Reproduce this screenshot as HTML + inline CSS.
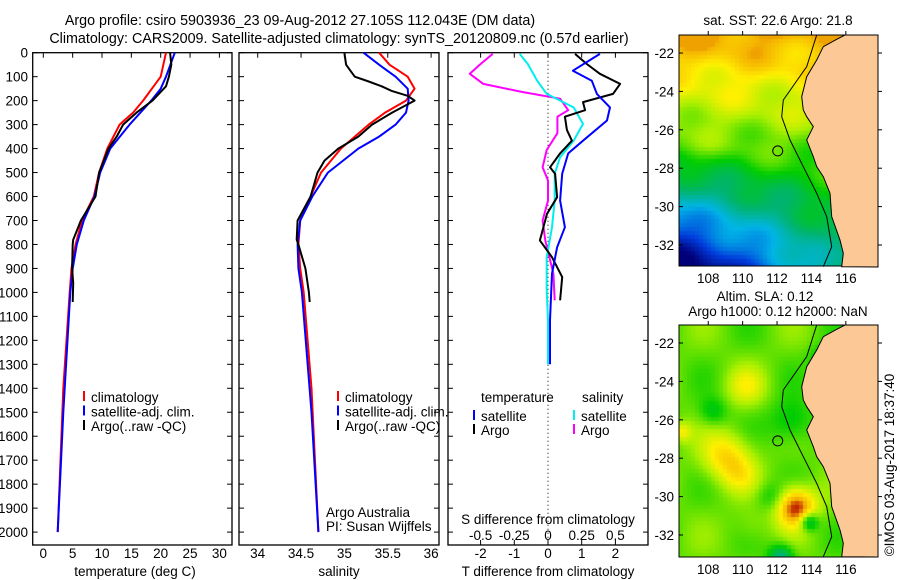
<!DOCTYPE html>
<html><head><meta charset="utf-8">
<style>
html,body{margin:0;padding:0;background:#fff;}
svg text{font-family:"Liberation Sans",sans-serif;font-size:13.5px;fill:#000;}
#wrap{position:relative;width:900px;height:580px;}
canvas{position:absolute;}
</style></head>
<body>
<div id="wrap">
<canvas id="map1" width="199" height="231" style="left:679px;top:35px"></canvas>
<canvas id="map2" width="199" height="232" style="left:679px;top:325px"></canvas>
<svg id="svg" width="900" height="580" style="position:absolute;left:0;top:0"></svg>
</div>
<script>
// ---- data ----
const depthTicks=[0,100,200,300,400,500,600,700,800,900,1000,1100,1200,1300,1400,1500,1600,1700,1800,1900,2000];
const tTicks=[0,5,10,15,20,25,30];
const sTicks=[34,34.5,35,35.5,36];
const dtTicks=[-2,-1,0,1,2];
const dsTicks=[-0.5,-0.25,0,0.25,0.5];
const dsTickLabels=["-0.5","-0.25","0","0.25","0.5"];

const tClimD=[0,100,200,250,300,400,500,600,700,800,900,1000,1400,2000];
const tClimV=[20.9,20.0,17.0,15.3,13.0,10.9,9.5,8.6,6.6,5.5,4.8,4.5,3.4,2.45];
const tSatD=[0,100,150,200,300,400,500,600,700,800,900,1000,1500,2000];
const tSatV=[22.4,20.9,20.0,18.4,14.7,11.4,9.7,8.7,6.9,5.7,5.0,4.6,3.4,2.45];
const tArgoD=[0,50,100,140,200,250,300,350,400,500,600,700,780,800,900,960,1040];
const tArgoV=[21.6,21.8,21.4,20.9,18.6,15.9,13.6,12.5,11.1,9.5,8.9,6.4,5.1,5.0,4.9,5.1,5.0];

const sClimD=[0,50,100,150,200,250,300,350,400,500,600,700,800,900,1000,1400,2000];
const sClimV=[35.40,35.52,35.73,35.81,35.71,35.47,35.28,35.12,34.96,34.73,34.61,34.49,34.47,34.49,34.53,34.62,34.70];
const sSatD=[0,50,100,150,200,250,300,350,400,500,600,700,800,900,1000,1500,2000];
const sSatV=[35.22,35.40,35.59,35.73,35.74,35.71,35.59,35.40,35.16,34.81,34.63,34.49,34.46,34.47,34.51,34.62,34.70];
const sArgoD=[0,50,80,100,120,140,160,180,200,250,300,350,400,450,500,600,700,780,800,900,1000,1040];
const sArgoV=[35.0,35.02,35.08,35.12,35.28,35.43,35.55,35.73,35.81,35.55,35.32,35.16,34.93,34.77,34.69,34.61,34.46,34.45,34.47,34.55,34.59,34.60];

const dtSatD=[5,75,117,172,228,283,367,420,505,617,728,812,922,1117,1300];
const dtSatV=[1.54,0.74,1.3,1.45,1.84,1.75,1.04,0.6,0.42,0.36,0.5,0.27,0.12,0.06,0.06];
const dtArgoD=[5,47,88,130,172,206,240,267,322,367,420,478,505,603,672,783,853,936,1033];
const dtArgoV=[0.8,1.15,1.54,2.14,1.93,1.04,1.1,0.5,0.56,0.71,0.36,0.06,0.21,0.27,-0.03,-0.24,0.12,0.42,0.36];
const dsSatD=[5,47,117,172,228,297,367,436,505,617,728,853,992,1117,1300];
const dsSatV=[-0.21,-0.15,-0.08,-0.01,0.19,0.26,0.19,0.09,0.05,0.05,0.03,-0.01,-0.01,0.0,0.0];
const dsArgoD=[5,47,88,130,164,192,240,267,336,406,478,533,617,700,783,922,1033];
const dsArgoV=[-0.41,-0.5,-0.58,-0.48,-0.19,0.09,0.15,0.07,0.07,-0.01,-0.04,0.0,0.0,-0.04,-0.02,0.04,0.05];

// ---- axes ----
const yD=d=>52.7+d*0.2397;
const xT=t=>43.3+t*5.87;
const xS=s=>257.7+(s-34)*86.7;
const xDT=t=>548+t*33.7;
const xDS=s=>548+s*134.8;
const BOT=545, TOP=52.7;

const NS='http://www.w3.org/2000/svg';
const svg=document.getElementById('svg');
function mk(tag,at,parent){const e=document.createElementNS(NS,tag);for(const k in at)e.setAttribute(k,at[k]);(parent||svg).appendChild(e);return e;}
function txt(x,y,s,anchor,name){const e=mk('text',{x:x,y:y,'text-anchor':anchor||'middle'});e.textContent=s;return e;}
function line(D,V,xf,color,name,w){
  const pts=D.map((d,i)=>xf(V[i]).toFixed(1)+','+yD(d).toFixed(1)).join(' ');
  const p=mk('polyline',{points:pts,fill:'none',stroke:color,'stroke-width':w||2,'stroke-linejoin':'round'});
  
  
}
function box(x0,x1,name){
  const r=mk('rect',{x:x0,y:TOP,width:x1-x0,height:BOT-TOP,fill:'none',stroke:'#000','stroke-width':1.3});
  
  
  depthTicks.forEach(d=>{mk('line',{x1:x0,x2:x0+5,y1:yD(d),y2:yD(d),stroke:'#000'});mk('line',{x1:x1-5,x2:x1,y1:yD(d),y2:yD(d),stroke:'#000'});});
}
const t1=txt(300,25,'Argo profile: csiro 5903936_23 09-Aug-2012 27.105S 112.043E (DM data)','middle','title-line-1');
t1.style.fontSize='14.3px';
const t2=txt(339,43,'Climatology: CARS2009. Satellite-adjusted climatology: synTS_20120809.nc (0.57d earlier)','middle','title-line-2');
t2.style.fontSize='14.3px';

// panel 1
box(32.7,232,'temperature-panel');
depthTicks.forEach(d=>txt(28,yD(d)+5,String(d),'end','depth-tick-label'));
tTicks.forEach(t=>{txt(xT(t),558,String(t),'middle','temperature-tick-label');mk('line',{x1:xT(t),x2:xT(t),y1:TOP,y2:TOP+5,stroke:'#000'});});
txt(135,576,'temperature (deg C)','middle','temperature-axis-title');
line(tClimD,tClimV,xT,'#f00','temperature-climatology-line');
line(tSatD,tSatV,xT,'#00f','temperature-satellite-line');
line(tArgoD,tArgoV,xT,'#000','temperature-argo-line');

// panel 2
box(239,439,'salinity-panel');
sTicks.forEach(s=>{txt(xS(s),558,String(s),'middle','salinity-tick-label');mk('line',{x1:xS(s),x2:xS(s),y1:TOP,y2:TOP+5,stroke:'#000'});});
txt(339,576,'salinity','middle','salinity-axis-title');
line(sClimD,sClimV,xS,'#f00','salinity-climatology-line');
line(sSatD,sSatV,xS,'#00f','salinity-satellite-line');
line(sArgoD,sArgoV,xS,'#000','salinity-argo-line');

function legend(x,name){
  const items=[['#f00','climatology'],['#00f','satellite-adj. clim.'],['#000','Argo(..raw -QC)']];
  items.forEach((it,i)=>{const y=397+i*14.5;mk('rect',{x:x,y:y-6,width:2,height:10,fill:it[0]});txt(x+8,y+5,it[1],'start',name+'-entry');});
}
legend(83,'temperature-legend');
legend(337,'salinity-legend');
txt(326,517,'Argo Australia','start','credit-argo-australia');
txt(326,531,'PI: Susan Wijffels','start','credit-pi');

// panel 3
box(448,648,'difference-panel');
mk('line',{x1:548,x2:548,y1:TOP,y2:BOT,stroke:'#000','stroke-dasharray':'1,3'});
dtTicks.forEach(t=>{txt(xDT(t),558,String(t),'middle','t-diff-tick-label');mk('line',{x1:xDT(t),x2:xDT(t),y1:TOP,y2:TOP+5,stroke:'#000'});mk('line',{x1:xDT(t),x2:xDT(t),y1:BOT-5,y2:BOT,stroke:'#000'});});
dsTicks.forEach((s,i)=>txt(xDS(s),540,dsTickLabels[i],'middle','s-diff-tick-label'));
txt(548,524,'S difference from climatology','middle','s-diff-axis-title');
txt(548,576,'T difference from climatology','middle','t-diff-axis-title');
line(dsArgoD,dsArgoV,xDS,'#f0f','s-diff-argo-line');
line(dsSatD,dsSatV,xDS,'#0ee','s-diff-satellite-line');
line(dtArgoD,dtArgoV,xDT,'#000','t-diff-argo-line');
line(dtSatD,dtSatV,xDT,'#00f','t-diff-satellite-line');
txt(481,402,'temperature','start','diff-legend-temperature-header');
txt(582,402,'salinity','start','diff-legend-salinity-header');
[['#00f','satellite',473],['#000','Argo',473],['#0ee','satellite',573],['#f0f','Argo',573]].forEach((it,i)=>{
  const y=416+(i%2)*14;mk('rect',{x:it[2],y:y-6,width:2,height:10,fill:it[0]});txt(it[2]+8,y+5,it[1],'start','diff-legend-entry');});

// ---- maps ----
const latTicks=[-22,-24,-26,-28,-30,-32];
const lonTicks=[108,110,112,114,116];
const lonX=l=>679+(l-106.3)*17.2;
function latY(l,top){return top+18+( -22-l)*19.2;}
function mapAxes(top,h,name){
  const r=mk('rect',{x:679,y:top,width:199,height:h,fill:'none',stroke:'#000','stroke-width':1});
  
  
  latTicks.forEach(l=>{const y=latY(l,top);txt(674,y+5,String(l),'end',name+'-lat-label');mk('line',{x1:679,x2:683,y1:y,y2:y,stroke:'#000'});mk('line',{x1:874,x2:882,y1:y,y2:y,stroke:'#000'});});
  lonTicks.forEach(l=>{const x=lonX(l);txt(x,top+h+17,String(l),'middle',name+'-lon-label');mk('line',{x1:x,x2:x,y1:top-4,y2:top,stroke:'#000'});});
}
const coast=[[585,105],[560,118],[520,140],[500,180],[470,230],[455,290],[460,330],[470,350],[490,380],[470,420],[490,470],[500,500],[520,530],[540,580],[545,650],[570,720],[580,760],[575,800]];
const contour=[[500,105],[470,200],[400,300],[395,350],[420,420],[460,500],[500,580],[530,650],[545,740],[520,800]];
function drawLand(top,name){
  const pts=coast.map(p=>(650+p[0]/3).toFixed(1)+','+(top-35+p[1]/3).toFixed(1)).join(' ')+' 878,'+(top+232)+' 878,'+top;
  const g=mk('polygon',{points:pts,fill:'#fcc996',stroke:'#000','stroke-width':1});
  
  
  const c=mk('polyline',{points:contour.map(p=>(650+p[0]/3).toFixed(1)+','+(top-35+p[1]/3).toFixed(1)).join(' '),fill:'none',stroke:'#000','stroke-width':1});
  
  
  const o=mk('circle',{cx:lonX(112.04),cy:latY(-27.1,top),r:5,fill:'none',stroke:'#000'});
  
  
}
txt(778,25,'sat. SST: 22.6 Argo: 21.8','middle','sst-map-title');
txt(765,301,'Altim. SLA: 0.12','middle','sla-map-title-1');
txt(778,316,'Argo h1000: 0.12 h2000: NaN','middle','sla-map-title-2');
mapAxes(35,231,'sst-map');
mapAxes(325,232,'sla-map');
drawLand(35,'sst-map');
drawLand(325,'sla-map');
const cr=txt(0,0,'©IMOS 03-Aug-2017 18:37:40','middle','timestamp');
cr.setAttribute('transform','translate(894,465) rotate(-90)');

function jet(v){
  const stops=[[0,[0,0,120]],[0.15,[0,60,220]],[0.3,[0,180,230]],[0.45,[0,180,110]],[0.58,[0,205,0]],[0.72,[170,240,0]],[0.82,[255,240,0]],[0.92,[245,180,0]],[1,[190,30,0]]];
  for(let i=1;i<stops.length;i++){if(v<=stops[i][0]){const a=stops[i-1],b=stops[i];const f=(v-a[0])/(b[0]-a[0]);return a[1].map((c,k)=>Math.round(c+(b[1][k]-c)*f));}}
  return stops[stops.length-1][1];
}
function sstVal(x,y){
  let v=0.9-y/231*0.5;
  v-=Math.max(0,1-x/150)*Math.max(0,(y-110)/121)*0.45;
  if(y<60)v+=0.03*(1-y/60);
  v+=0.03*Math.sin(x*0.09+y*0.05)+0.025*Math.cos(y*0.13-x*0.04);
  return Math.max(0,Math.min(0.93,v));
}
const blobs=[[45,130,25,0.2],[65,60,20,0.12],[110,95,22,-0.12],[32,85,14,-0.12],[115,180,20,0.35],[60,150,18,0.08],[128,195,9,-0.25],[100,230,12,-0.25],[90,170,14,-0.1],[140,30,12,-0.1],[0,105,10,0.15],[70,200,18,0.05]];
function slaVal(x,y){
  let v=0.66+0.05*Math.sin(x*0.07)*Math.cos(y*0.06);
  blobs.forEach(b=>{const d=((x-b[0])**2+(y-b[1])**2)/(b[2]*b[2]);v+=b[3]*Math.exp(-d);});
  return Math.max(0,Math.min(1,v));
}
function paint(id,fn){
  const c=document.getElementById(id),ctx=c.getContext('2d');
  for(let y=0;y<c.height;y+=4)for(let x=0;x<c.width;x+=4){const col=jet(fn(x,y));ctx.fillStyle='rgb('+col.join(',')+')';ctx.fillRect(x,y,4,4);}
}
paint('map1',sstVal);
paint('map2',slaVal);
</script>
</body></html>
